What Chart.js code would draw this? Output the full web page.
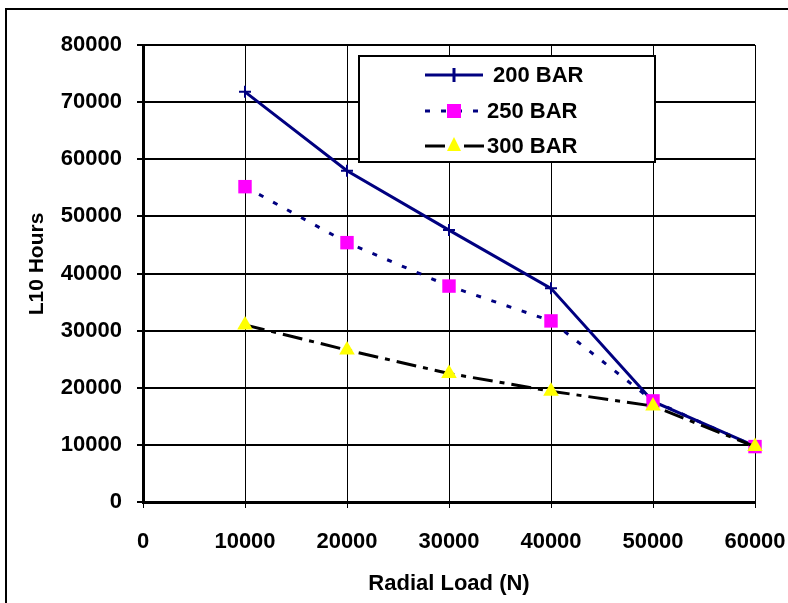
<!DOCTYPE html>
<html>
<head>
<meta charset="utf-8">
<script src="https://cdn.jsdelivr.net/npm/chart.js@4/dist/chart.umd.min.js"></script>
<style>
  html, body { margin: 0; padding: 0; background: #fff; }
  #wrap { width: 788px; height: 603px; }
</style>
</head>
<body>
<div id="wrap"><canvas id="chart" width="788" height="603"></canvas></div>
<script>
// Radial load (N) on the x axis
const loads = [10000, 20000, 30000, 40000, 50000, 60000];

// L10 life in hours for each pressure
const bar200 = [71800, 58000, 47600, 37400, 17600, 9800];
const bar250 = [55200, 45400, 37800, 31700, 17700, 9700];
const bar300 = [31000, 26600, 22500, 19400, 16800, 9700];

const seriesNames = ["200 BAR", "250 BAR", "300 BAR"];
const xTitle = "Radial Load (N)";
const yTitle = "L10 Hours";

const FONT = "'Liberation Sans', Arial, sans-serif";

function toPoints(values) {
    return loads.map((x, i) => ({ x: x, y: values[i] }));
}

// frame, axis titles and the boxed legend inside the plot
const decorPlugin = {
    id: "decor",
    beforeDraw(chart) {
        const ctx = chart.ctx;
        ctx.save();
        ctx.strokeStyle = "#000";
        ctx.lineWidth = 2;
        ctx.beginPath();
        ctx.moveTo(6, 603);
        ctx.lineTo(6, 9);
        ctx.lineTo(788, 9);
        ctx.stroke();

        ctx.fillStyle = "#000";
        ctx.font = "bold 22px " + FONT;
        ctx.textAlign = "center";
        ctx.textBaseline = "middle";
        const area = chart.chartArea;
        ctx.fillText(xTitle, (area.left + area.right) / 2, 584);

        ctx.translate(37, 264);
        ctx.rotate(-Math.PI / 2);
        ctx.font = "bold 21px " + FONT;
        ctx.fillText(yTitle, 0, 0);
        ctx.restore();
    },
    afterDraw(chart) {
        const ctx = chart.ctx;
        ctx.save();
        ctx.fillStyle = "#fff";
        ctx.fillRect(359, 56, 296, 106);
        ctx.strokeStyle = "#000";
        ctx.lineWidth = 2;
        ctx.strokeRect(359, 56, 296, 106);

        const rows = [75, 111, 146];
        const x0 = 425, x1 = 483, mid = 454;

        // 200 BAR
        ctx.strokeStyle = "#000080";
        ctx.lineWidth = 3;
        ctx.beginPath();
        ctx.moveTo(x0, rows[0]); ctx.lineTo(x1, rows[0]);
        ctx.moveTo(mid, rows[0] - 7); ctx.lineTo(mid, rows[0] + 7);
        ctx.stroke();

        // 250 BAR
        ctx.setLineDash([5, 11]);
        ctx.beginPath();
        ctx.moveTo(x0, rows[1]); ctx.lineTo(x1, rows[1]);
        ctx.stroke();
        ctx.setLineDash([]);
        ctx.fillStyle = "#ff00ff";
        ctx.fillRect(mid - 7, rows[1] - 7, 14, 14);

        // 300 BAR
        ctx.strokeStyle = "#000";
        ctx.setLineDash([20, 7, 5, 7]);
        ctx.beginPath();
        ctx.moveTo(x0, rows[2]); ctx.lineTo(x1 + 2, rows[2]);
        ctx.stroke();
        ctx.setLineDash([]);
        ctx.fillStyle = "#ffff00";
        ctx.beginPath();
        ctx.moveTo(mid, rows[2] - 9);
        ctx.lineTo(mid + 7, rows[2] + 5);
        ctx.lineTo(mid - 7, rows[2] + 5);
        ctx.closePath();
        ctx.fill();

        ctx.fillStyle = "#000";
        ctx.font = "bold 22px " + FONT;
        ctx.textBaseline = "middle";
        ctx.textAlign = "left";
        ctx.fillText(seriesNames[0], 493, rows[0] + 1);
        ctx.fillText(seriesNames[1], 487, rows[1] + 1);
        ctx.fillText(seriesNames[2], 487, rows[2] + 1);
        ctx.restore();
    }
};

new Chart(document.getElementById("chart"), {
    type: "line",
    data: {
        datasets: [
            {
                label: seriesNames[0],
                data: toPoints(bar200),
                borderColor: "#000080",
                borderWidth: 3,
                pointStyle: "cross",
                pointRadius: 6,
                pointBorderColor: "#000080",
                pointBorderWidth: 2,
                tension: 0,
                clip: false,
                order: 3
            },
            {
                label: seriesNames[1],
                data: toPoints(bar250),
                borderColor: "#000080",
                borderWidth: 3,
                borderDash: [5, 11],
                pointStyle: "rect",
                pointRadius: 9.5,
                pointBackgroundColor: "#ff00ff",
                pointBorderColor: "#ff00ff",
                pointBorderWidth: 0,
                tension: 0,
                clip: false,
                order: 2
            },
            {
                label: seriesNames[2],
                data: toPoints(bar300),
                borderColor: "#000",
                borderWidth: 3,
                borderDash: [20, 7, 5, 7],
                pointStyle: "triangle",
                pointRadius: 9,
                pointBackgroundColor: "#ffff00",
                pointBorderColor: "#ffff00",
                pointBorderWidth: 0,
                tension: 0,
                clip: false,
                order: 1
            }
        ]
    },
    options: {
        responsive: false,
        animation: false,
        layout: { padding: { top: 45, right: 33, left: 0, bottom: 0 } },
        plugins: {
            legend: { display: false },
            tooltip: { enabled: false }
        },
        scales: {
            x: {
                type: "linear",
                min: 0,
                max: 60000,
                afterFit(scale) {
                    scale.height = 101;
                    scale.paddingLeft = 0;
                    scale.paddingRight = 0;
                },
                ticks: {
                    stepSize: 10000,
                    color: "#000",
                    padding: 21,
                    maxRotation: 0,
                    callback: v => String(v),
                    font: { family: FONT, size: 22, weight: "bold" }
                },
                grid: { color: "#000", lineWidth: 1, tickLength: 6, tickColor: "#000" },
                border: { color: "#000", width: 3 }
            },
            y: {
                min: 0,
                max: 80000,
                afterFit(scale) {
                    scale.width = 143;
                    scale.paddingTop = 0;
                    scale.paddingBottom = 0;
                },
                ticks: {
                    stepSize: 10000,
                    color: "#000",
                    padding: 15,
                    callback: v => String(v),
                    font: { family: FONT, size: 22, weight: "bold" }
                },
                grid: { color: "#000", lineWidth: 2, tickLength: 6, tickColor: "#000" },
                border: { color: "#000", width: 3 }
            }
        }
    },
    plugins: [decorPlugin]
});
</script>
</body>
</html>
